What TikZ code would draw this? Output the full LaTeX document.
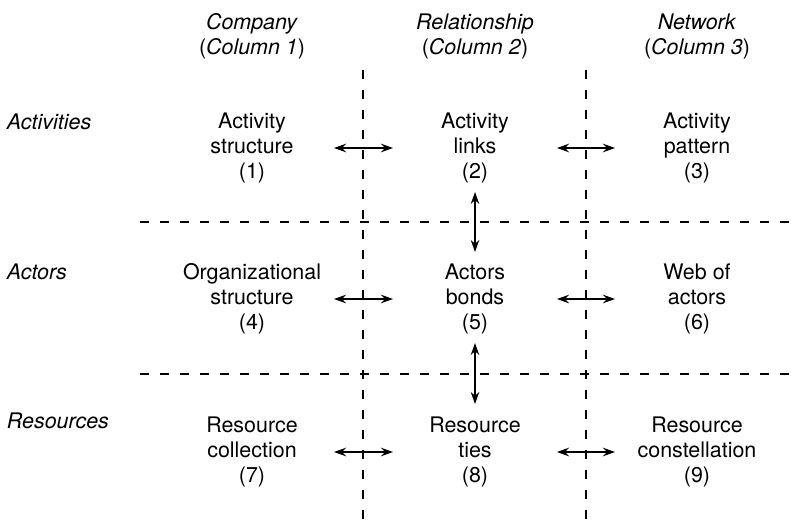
\documentclass[tikz,border=0pt]{standalone}
\usepackage{fontspec}
\setmainfont{TeX Gyre Heros}
\usetikzlibrary{arrows.meta}

\begin{document}
\begin{tikzpicture}[x=0.02cm,y=-0.02cm,
        txt/.style={inner sep=0pt,outer sep=0pt,font=\fontsize{12.2}{14.2}\selectfont},
        cell/.style={txt,align=center,minimum width=3.28cm},
        colhead/.style={txt,align=center},
        rowhead/.style={txt,anchor=west,font=\fontsize{12.2}{14.2}\selectfont\itshape},
        gridline/.style={line width=0.6pt,dash pattern=on 0.18cm off 0.22cm},
        link/.style={line width=0.85pt,{Stealth[length=0.24cm,width=0.17cm]}-{Stealth[length=0.24cm,width=0.17cm]}}]
        \useasboundingbox (0,0) rectangle (791,527);

        % Column headings
        \node[colhead] (h1) at (252,36) {\textit{Company}\\(\textit{Column 1})};
        \node[colhead] (h2) at (475,36) {\textit{Relationship}\\(\textit{Column 2})};
        \node[colhead] (h3) at (697,36) {\textit{Network}\\(\textit{Column 3})};

        % Row headings
        \node[rowhead] (r1) at (7,122) {Activities};
        \node[rowhead] (r2) at (7,272) {Actors};
        \node[rowhead] (r3) at (7,421) {Resources};

        % Separating dashed lines
        \draw[gridline] (363,70) -- (363,527);
        \draw[gridline] (586,70) -- (586,527);
        \draw[gridline] (140,222) -- (791,222);
        \draw[gridline] (140,374) -- (791,374);

        % The nine cells
        \node[cell] (c1) at (252,148) {Activity\\structure\\(1)};
        \node[cell] (c2) at (475,148) {Activity\\links\\(2)};
        \node[cell] (c3) at (697,148) {Activity\\pattern\\(3)};
        \node[cell] (c4) at (252,299) {Organizational\\structure\\(4)};
        \node[cell] (c5) at (475,299) {Actors\\bonds\\(5)};
        \node[cell] (c6) at (697,299) {Web of\\actors\\(6)};
        \node[cell] (c7) at (252,452) {Resource\\collection\\(7)};
        \node[cell] (c8) at (475,452) {Resource\\ties\\(8)};
        \node[cell] (c9) at (697,452) {Resource\\constellation\\(9)};

        % Links along the rows
        \draw[link] (c1) -- (c2);
        \draw[link] (c2) -- (c3);
        \draw[link] (c4) -- (c5);
        \draw[link] (c5) -- (c6);
        \draw[link] (c7) -- (c8);
        \draw[link] (c8) -- (c9);

        % Links down the middle column
        \draw[link,shorten <=0.18cm,shorten >=0.24cm] (c2) -- (c5);
        \draw[link,shorten <=0.18cm,shorten >=0.26cm] (c5) -- (c8);
    \end{tikzpicture}
\end{document}
